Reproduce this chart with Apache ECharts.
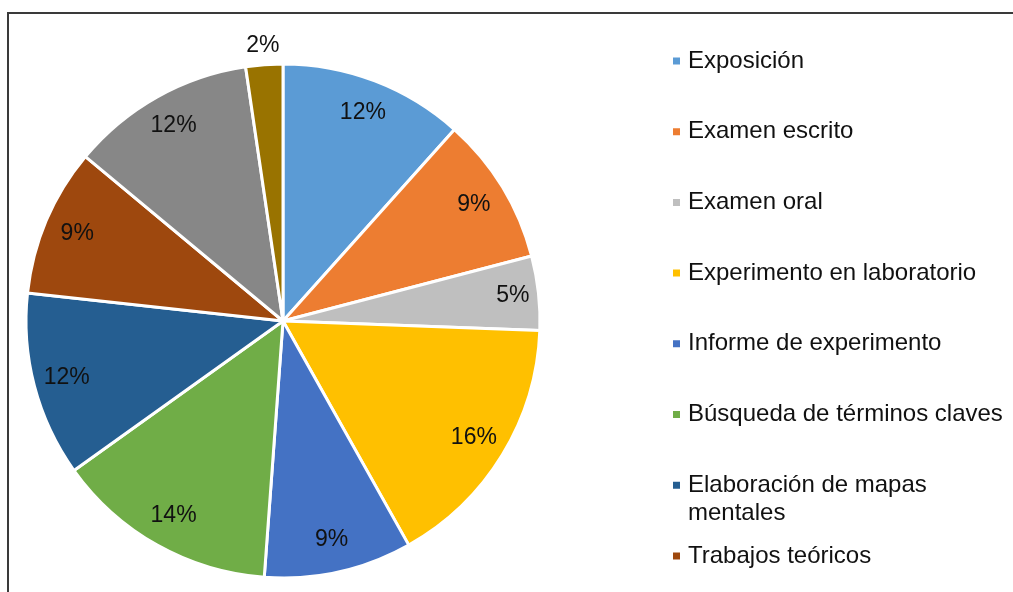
<!DOCTYPE html>
<html>
<head>
<meta charset="utf-8">
<script src="https://cdn.jsdelivr.net/npm/echarts@6/dist/echarts.min.js"></script>
<style>
  html, body { margin: 0; padding: 0; background: #fff; overflow: hidden; }
  #pieChart { width: 1013px; height: 720px; }
</style>
</head>
<body>
<div id="pieChart"></div>
<script>
// categorias (las dos ultimas quedan fuera del recorte de la leyenda)
var categories = [
  'Exposición',
  'Examen escrito',
  'Examen oral',
  'Experimento en laboratorio',
  'Informe de experimento',
  'Búsqueda de términos claves',
  'Elaboración de mapas mentales',
  'Trabajos teóricos',
  'Resolución de problemas',
  'Otros'
];
// frecuencias (total 43)
var counts = [5, 4, 2, 7, 4, 6, 5, 4, 5, 1];
var colors = ['#5B9BD5', '#ED7D31', '#BFBFBF', '#FFC000', '#4472C4',
              '#70AD47', '#255E91', '#9E480E', '#878787', '#997300'];

var font = 'Arial, "Liberation Sans", sans-serif';
var cx = 283, cy = 321, R = 257;
var total = counts.reduce(function (a, b) { return a + b; }, 0);

// posicion de la etiqueta: cerca del borde, como en Excel
function labelPos(i) {
  var before = 0;
  for (var j = 0; j < i; j++) before += counts[j];
  var mid = (before + counts[i] / 2) / total * 2 * Math.PI;
  var r = counts[i] / total < 0.03 ? R + 19 : R * 0.87;
  if (counts[i] / total > 0.03 && counts[i] / total < 0.06) r = R * 0.9;
  return { x: cx + r * Math.sin(mid), y: cy - r * Math.cos(mid) };
}

// una leyenda por elemento para fijar el espaciado
var legends = [];
var legStart = 61, legStep = 70.7;
for (var i = 0; i < categories.length; i++) {
  var name = categories[i];
  var wrapped = name === 'Elaboración de mapas mentales';
  var center = legStart + legStep * i;
  legends.push({
    data: [name],
    left: 671,
    top: wrapped ? center - 42 : center - 14,
    padding: 0,
    orient: 'vertical',
    icon: 'rect',
    itemWidth: 9,
    itemHeight: 9,
    itemGap: 0,
    selectedMode: false,
    formatter: wrapped ? function () { return '\nElaboración de mapas\nmentales'; } : '{name}',
    textStyle: { fontFamily: font, fontSize: 24, lineHeight: 28, color: '#111', padding: [0, 0, 0, 2] }
  });
}

var chart = echarts.init(document.getElementById('pieChart'));
chart.setOption({
  animation: false,
  color: colors,
  legend: legends,
  graphic: [{
    type: 'rect',
    z: -1,
    shape: { x: 8, y: 13, width: 1100, height: 900 },
    style: { fill: 'none', stroke: '#3a3a3a', lineWidth: 2 }
  }],
  series: [{
    type: 'pie',
    center: [cx, cy],
    radius: R,
    startAngle: 90,
    clockwise: true,
    avoidLabelOverlap: false,
    itemStyle: { borderColor: '#fff', borderWidth: 3 },
    label: {
      position: 'inside',
      fontFamily: font,
      fontSize: 23,
      color: '#111',
      formatter: function (p) { return Math.round(p.percent) + '%'; }
    },
    labelLine: { show: false },
    labelLayout: function (params) {
      var p = labelPos(params.dataIndex);
      return { x: p.x, y: p.y, align: 'center', verticalAlign: 'middle' };
    },
    emphasis: { disabled: true },
    data: categories.map(function (c, k) { return { name: c, value: counts[k] }; })
  }]
});
</script>
</body>
</html>
